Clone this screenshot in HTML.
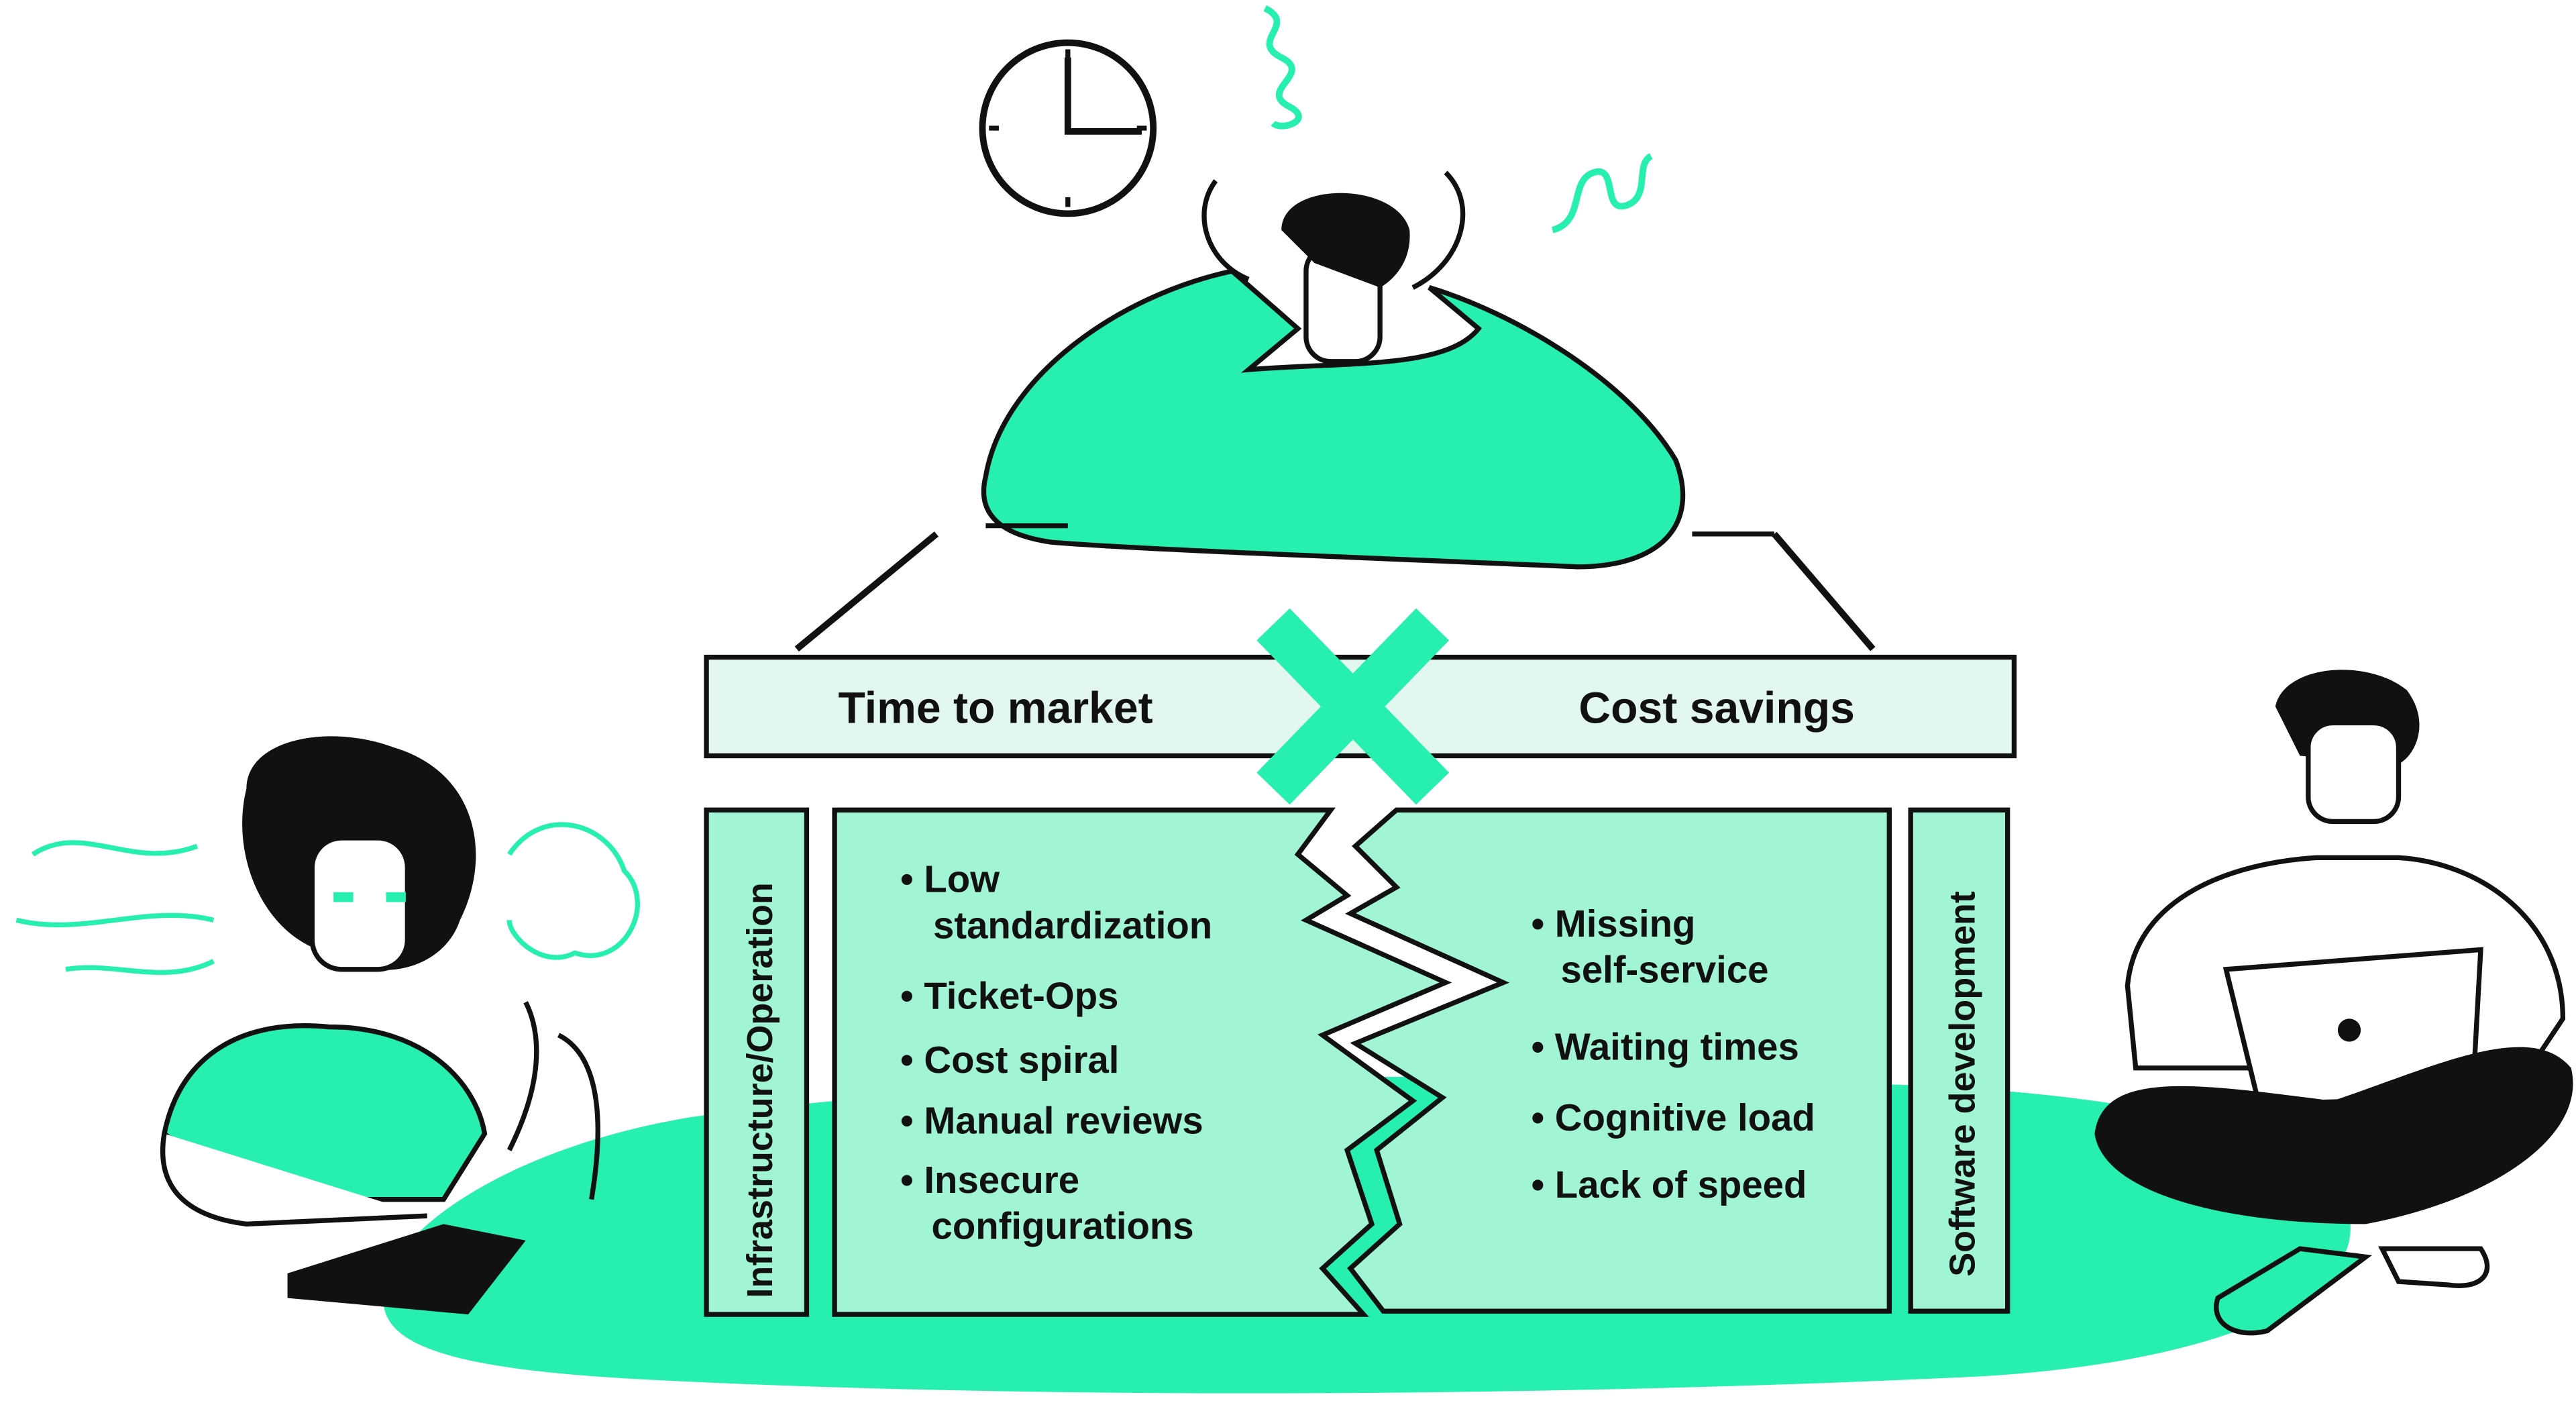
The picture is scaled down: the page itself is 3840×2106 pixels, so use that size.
<!DOCTYPE html>
<html><head><meta charset="utf-8"><style>
html,body{margin:0;padding:0;background:#fff;}
svg{display:block;}
text{font-family:"Liberation Sans",sans-serif;font-weight:bold;fill:#111;}
</style></head><body>
<svg width="3840" height="2106" viewBox="0 0 1568 860" preserveAspectRatio="none" xmlns="http://www.w3.org/2000/svg">
<!-- ground -->
<path d="M235,800 C220,760 300,700 420,680 C600,655 900,650 1150,660 C1300,665 1420,690 1430,740 C1440,790 1350,830 1200,838 C900,852 600,850 400,840 C300,835 245,825 235,800 Z" fill="#27efb0"/>
<!-- clock -->
<circle cx="650" cy="78" r="52" fill="#fff" stroke="#111" stroke-width="4"/>
<path d="M650,35 V80 H695" fill="none" stroke="#111" stroke-width="4"/>
<path d="M650,30 v6 M650,120 v6 M602,78 h6 M692,78 h6" stroke="#111" stroke-width="3"/>
<!-- squiggles -->
<path d="M770,5 c20,10 -10,20 10,30 c20,10 -15,20 5,30 c15,8 -5,15 -10,10" fill="none" stroke="#27efb0" stroke-width="4"/>
<path d="M945,140 c20,-5 10,-30 25,-35 c15,-5 5,25 20,20 c15,-5 5,-25 15,-30" fill="none" stroke="#27efb0" stroke-width="4"/>
<!-- top person -->
<path d="M600,290 C610,230 680,180 750,165 L790,200 L760,225 C820,220 880,225 900,200 L870,175 C920,190 990,230 1020,280 C1035,320 1010,345 960,345 C850,340 700,335 640,330 C605,325 595,310 600,290 Z" fill="#27efb0" stroke="#111" stroke-width="3"/>
<path d="M600,320 h50 M1030,325 h50" stroke="#111" stroke-width="3"/>
<path d="M570,325 L485,395 M1080,325 L1140,395" stroke="#111" stroke-width="4"/>
<rect x="795" y="150" width="45" height="70" rx="15" fill="#fff" stroke="#111" stroke-width="3"/>
<path d="M780,140 C780,110 850,110 858,140 C860,165 840,175 840,175 L800,160 Z" fill="#111"/>
<path d="M740,110 c-15,20 -5,50 20,60 M880,105 c20,20 10,55 -20,70" fill="#fff" stroke="#111" stroke-width="3"/>
<!-- top bar -->
<rect x="430" y="400" width="796" height="60" fill="#e2f8ef" stroke="#111" stroke-width="3"/>
<text x="606" y="440" font-size="27" text-anchor="middle">Time to market</text>
<text x="1045" y="440" font-size="27" text-anchor="middle">Cost savings</text>
<path d="M775,380 L872,480 M872,380 L775,480" stroke="#27efb0" stroke-width="28"/>
<!-- panels -->
<rect x="430" y="493" width="61" height="307" fill="#a2f5d4" stroke="#111" stroke-width="3"/>
<text transform="translate(470,790) rotate(-90)" font-size="22">Infrastructure/Operation</text>
<rect x="1163" y="493" width="59" height="305" fill="#a2f5d4" stroke="#111" stroke-width="3"/>
<text transform="translate(1202,777) rotate(-90)" font-size="22">Software development</text>
<path d="M508,493 L810,493 L790,520 L820,545 L795,560 L880,598 L805,630 L860,670 L820,700 L835,745 L805,772 L830,800 L508,800 Z" fill="#a2f5d4" stroke="#111" stroke-width="3"/>
<path d="M850,493 L1150,493 L1150,798 L842,798 L822,772 L852,745 L838,700 L878,668 L825,635 L915,598 L822,556 L850,540 L825,515 Z" fill="#a2f5d4" stroke="#111" stroke-width="3"/>
<g font-size="23">
<text x="548" y="543">• Low</text>
<text x="568" y="571">standardization</text>
<text x="548" y="614">• Ticket-Ops</text>
<text x="548" y="653">• Cost spiral</text>
<text x="548" y="690">• Manual reviews</text>
<text x="548" y="726">• Insecure</text>
<text x="567" y="754">configurations</text>
<text x="932" y="570">• Missing</text>
<text x="950" y="598">self-service</text>
<text x="932" y="645">• Waiting times</text>
<text x="932" y="688">• Cognitive load</text>
<text x="932" y="729">• Lack of speed</text>
</g>
<!-- left woman -->
<path d="M20,520 c30,-20 60,10 100,-5 M10,560 c40,10 80,-10 120,0 M40,590 c30,-5 60,10 90,-5" fill="none" stroke="#27efb0" stroke-width="3"/>
<path d="M310,520 c20,-30 60,-20 70,10 c20,20 0,60 -30,50 c-20,10 -40,-10 -40,-20" fill="none" stroke="#27efb0" stroke-width="3"/>
<path d="M150,480 C150,450 200,440 240,455 C290,470 300,520 280,560 C270,590 230,600 200,580 C160,570 140,520 150,480 Z" fill="#111"/>
<rect x="190" y="510" width="58" height="80" rx="18" fill="#fff" stroke="#111" stroke-width="3"/>
<rect x="203" y="543" width="12" height="6" fill="#27efb0"/><rect x="235" y="543" width="12" height="6" fill="#27efb0"/>
<path d="M100,690 C110,640 150,620 200,625 C260,625 290,660 295,690 L270,730 L150,730 Z" fill="#27efb0" stroke="#111" stroke-width="3"/>
<path d="M100,690 C95,720 110,740 150,745 L260,740" fill="#fff" stroke="#111" stroke-width="3"/>
<path d="M175,775 L270,745 L320,755 L285,800 L175,790 Z" fill="#111"/>
<path d="M320,610 c10,20 10,50 -10,90 M340,630 c20,10 30,40 20,100" fill="none" stroke="#111" stroke-width="3"/>
<!-- right man -->
<path d="M1385,430 C1390,405 1440,400 1465,420 C1480,440 1470,460 1460,465 L1400,460 Z" fill="#111"/>
<rect x="1405" y="440" width="55" height="60" rx="15" fill="#fff" stroke="#111" stroke-width="3"/>
<path d="M1295,600 C1300,545 1360,525 1410,522 L1460,522 C1510,525 1560,560 1560,620 L1540,650 L1300,650 Z" fill="#fff" stroke="#111" stroke-width="3"/>
<path d="M1355,590 L1510,578 L1505,668 L1375,672 Z" fill="#fff" stroke="#111" stroke-width="3"/>
<circle cx="1430" cy="627" r="7" fill="#111"/>
<path d="M1275,690 C1280,650 1340,660 1420,670 C1480,650 1540,620 1565,650 C1575,690 1520,730 1440,745 C1350,745 1280,725 1275,690 Z" fill="#111"/>
<path d="M1350,790 L1400,760 L1440,765 L1380,810 C1360,815 1345,805 1350,790 Z" fill="#27efb0" stroke="#111" stroke-width="3"/>
<path d="M1450,760 L1510,760 C1520,775 1510,785 1490,782 L1460,780 Z" fill="#fff" stroke="#111" stroke-width="3"/>
</svg>
</body></html>
